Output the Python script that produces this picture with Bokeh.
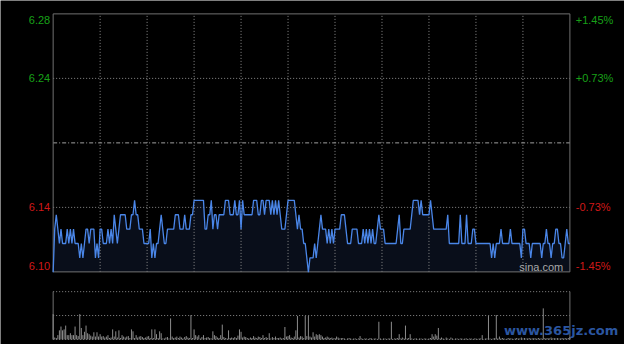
from bokeh.plotting import figure
from bokeh.models import Range1d
from bokeh.core.properties import value
from bokeh.embed import file_html
from bokeh.resources import INLINE

# ---------------- data ----------------
PREV_CLOSE = 6.19
price = [
    6.10, 6.13, 6.14, 6.13, 6.12, 6.13, 6.12, 6.12, 6.12, 6.13,
    6.12, 6.13, 6.12, 6.13, 6.12, 6.12, 6.12, 6.11, 6.12, 6.11,
    6.12, 6.13, 6.13, 6.12, 6.13, 6.13, 6.13, 6.11, 6.12, 6.11,
    6.13, 6.13, 6.12, 6.12, 6.12, 6.13, 6.12, 6.13, 6.12, 6.14,
    6.13, 6.12, 6.13, 6.14, 6.14, 6.14, 6.14, 6.13, 6.13, 6.13,
    6.14, 6.14, 6.15, 6.14, 6.14, 6.13, 6.13, 6.13, 6.12, 6.12,
    6.12, 6.12, 6.13, 6.11, 6.12, 6.11, 6.12, 6.12, 6.13, 6.14,
    6.13, 6.12, 6.12, 6.13, 6.13, 6.13, 6.13, 6.13, 6.14, 6.14,
    6.14, 6.13, 6.13, 6.13, 6.14, 6.13, 6.13, 6.13, 6.14, 6.14,
    6.15, 6.15, 6.15, 6.15, 6.15, 6.15, 6.15, 6.13, 6.13, 6.14,
    6.14, 6.15, 6.13, 6.14, 6.14, 6.13, 6.14, 6.14, 6.14, 6.14,
    6.15, 6.15, 6.15, 6.14, 6.14, 6.14, 6.15, 6.14, 6.14, 6.15,
    6.13, 6.15, 6.14, 6.14, 6.14, 6.14, 6.14, 6.14, 6.15, 6.15,
    6.15, 6.14, 6.14, 6.15, 6.15, 6.14, 6.15, 6.15, 6.15, 6.14,
    6.15, 6.14, 6.15, 6.14, 6.15, 6.14, 6.13, 6.13, 6.13, 6.14,
    6.15, 6.15, 6.15, 6.15, 6.15, 6.14, 6.13, 6.14, 6.13, 6.13,
    6.12, 6.12, 6.11, 6.10, 6.11, 6.11, 6.11, 6.12, 6.11, 6.12,
    6.13, 6.14, 6.13, 6.13, 6.13, 6.12, 6.13, 6.12, 6.13, 6.12,
    6.13, 6.13, 6.13, 6.13, 6.14, 6.14, 6.14, 6.13, 6.12, 6.12,
    6.12, 6.13, 6.13, 6.13, 6.13, 6.12, 6.12, 6.12, 6.13, 6.12,
    6.13, 6.12, 6.13, 6.12, 6.13, 6.12, 6.12, 6.13, 6.14, 6.13,
    6.13, 6.13, 6.12, 6.12, 6.12, 6.12, 6.12, 6.12, 6.12, 6.12,
    6.13, 6.14, 6.12, 6.12, 6.13, 6.13, 6.13, 6.13, 6.13, 6.14,
    6.15, 6.15, 6.15, 6.15, 6.14, 6.15, 6.14, 6.14, 6.14, 6.14,
    6.14, 6.15, 6.14, 6.13, 6.13, 6.13, 6.13, 6.13, 6.13, 6.13,
    6.13, 6.13, 6.14, 6.12, 6.12, 6.12, 6.12, 6.12, 6.12, 6.12,
    6.14, 6.12, 6.12, 6.12, 6.14, 6.12, 6.12, 6.12, 6.13, 6.13,
    6.12, 6.12, 6.12, 6.12, 6.12, 6.12, 6.12, 6.12, 6.12, 6.12,
    6.11, 6.12, 6.11, 6.12, 6.12, 6.12, 6.13, 6.12, 6.12, 6.12,
    6.12, 6.12, 6.13, 6.12, 6.12, 6.12, 6.12, 6.12, 6.12, 6.11,
    6.13, 6.13, 6.12, 6.12, 6.12, 6.11, 6.12, 6.12, 6.12, 6.12,
    6.12, 6.12, 6.11, 6.12, 6.12, 6.13, 6.12, 6.12, 6.11, 6.12,
    6.12, 6.13, 6.13, 6.12, 6.12, 6.11, 6.11, 6.12, 6.13, 6.12,
    6.12,
]
volume = [
    53, 4, 3, 9, 19, 27, 19, 21, 29, 9,
    9, 13, 9, 9, 27, 9, 7, 53, 24, 9,
    16, 29, 13, 11, 8, 6, 15, 6, 15, 6,
    11, 6, 7, 4, 6, 9, 3, 4, 21, 6,
    17, 4, 19, 3, 9, 6, 4, 6, 7, 3,
    21, 17, 3, 9, 4, 6, 7, 5, 3, 4,
    6, 7, 3, 21, 3, 21, 11, 3, 17, 13,
    2, 2, 4, 5, 2, 44, 6, 3, 4, 6,
    3, 6, 4, 2, 5, 7, 4, 3, 51, 3,
    21, 9, 6, 9, 2, 5, 9, 3, 4, 5,
    3, 2, 17, 9, 7, 4, 3, 9, 31, 5,
    3, 2, 19, 3, 4, 3, 5, 3, 8, 21,
    16, 4, 6, 5, 3, 2, 4, 3, 7, 4,
    3, 6, 5, 3, 9, 3, 5, 3, 13, 2,
    5, 3, 6, 3, 3, 4, 2, 3, 26, 6,
    7, 9, 4, 3, 6, 19, 49, 4, 7, 6,
    3, 49, 7, 49, 6, 4, 15, 6, 11, 9,
    11, 9, 6, 3, 4, 6, 4, 3, 4, 2,
    3, 6, 4, 2, 3, 3, 2, 1, 2, 3,
    2, 1, 2, 2, 1, 2, 7, 2, 1, 2,
    2, 1, 2, 3, 1, 2, 2, 1, 37, 2,
    1, 2, 2, 1, 2, 2, 37, 1, 2, 2,
    3, 11, 2, 4, 2, 29, 2, 3, 11, 2,
    1, 2, 2, 1, 2, 2, 1, 2, 2, 1,
    2, 3, 11, 6, 11, 8, 24, 2, 4, 2,
    1, 4, 2, 1, 4, 2, 1, 2, 2, 1,
    2, 2, 1, 2, 2, 1, 2, 2, 1, 2,
    2, 1, 2, 2, 9, 1, 2, 2, 49, 2,
    1, 2, 3, 51, 2, 6, 2, 3, 2, 1,
    2, 3, 2, 2, 1, 2, 3, 2, 2, 4,
    2, 3, 2, 2, 3, 2, 2, 3, 2, 2,
    3, 2, 2, 65, 3, 2, 3, 2, 4, 2,
    3, 2, 3, 2, 2, 3, 2, 3, 2, 3,
    5,
]
minutes = list(range(len(price)))
grid_minutes = [30, 60, 90, 120, 150, 180, 210, 240, 270, 300]
pct_levels = [1.45, 0.725, -0.725, -1.45]
left_labels = ["6.28", "6.24", "6.14", "6.10"]
right_labels = ["+1.45%", "+0.73%", "-0.73%", "-1.45%"]
VOL_MAX = 100

# ---------------- layout ----------------
W, H = 624, 344
SX, SY = W / 640, H / 360            # reference -> figure pixels
X0, X1 = 54 * SX, 584 * SX           # panel left / right
Y_TOP, Y_BOT = 14 * SY, 284 * SY     # main panel
V_TOP, V_BOT = 304.7 * SY, 354.7 * SY

N = len(price) - 1
top_price = PREV_CLOSE * (1 + pct_levels[0] / 100)
bot_price = PREV_CLOSE * (1 + pct_levels[-1] / 100)
ppx = (X1 - X0) / N
upp = (top_price - bot_price) / (Y_BOT - Y_TOP)
vpp = VOL_MAX / (V_BOT - V_TOP)

p = figure(width=W, height=H, output_backend="svg", toolbar_location=None,
           x_range=Range1d(-X0 / ppx, N + (W - X1) / ppx),
           y_range=Range1d(bot_price - (H - Y_BOT) * upp, top_price + Y_TOP * upp),
           x_axis_location=None, y_axis_location=None,
           min_border=0, background_fill_color="black", border_fill_color="black",
           outline_line_color=None)
p.grid.visible = False
p.extra_y_ranges = {"vol": Range1d(-(H - V_BOT) * vpp, VOL_MAX + V_TOP * vpp),
                    "px": Range1d(H, 0)}
p.extra_x_ranges = {"px": Range1d(0, W)}

GRID = "#8a8a8a"
BORDER = "#707070"

# area under the price line
p.varea(x=minutes, y1=bot_price, y2=price, fill_color="#14203a", fill_alpha=0.45)

# horizontal grid
for pc in pct_levels[1:3]:
    yv = PREV_CLOSE * (1 + pc / 100)
    p.segment(x0=0, x1=N, y0=yv, y1=yv, line_color=GRID, line_width=1, line_dash="1 2")
p.segment(x0=0, x1=N, y0=PREV_CLOSE, y1=PREV_CLOSE, line_color="#a0a0a0",
          line_width=1, line_dash="4 2 1 2")
# vertical grid
p.segment(x0=grid_minutes, x1=grid_minutes, y0=bot_price, y1=top_price,
          line_color=GRID, line_width=1, line_dash="1 2")
# main border
p.segment(x0=[0, N, 0, 0], x1=[0, N, N, N], y0=[bot_price, bot_price, top_price, bot_price],
          y1=[top_price, top_price, top_price, bot_price], line_color=BORDER, line_width=1)

# price line
p.line(minutes, price, line_color="#4a86e8", line_width=1.3)

# volume panel
p.segment(x0=[0, 0, 0], x1=[N, N, N], y0=[VOL_MAX, VOL_MAX / 2, 0],
          y1=[VOL_MAX, VOL_MAX / 2, 0], line_color=GRID, line_width=1, line_dash="1 2",
          y_range_name="vol")
p.segment(x0=[0, N], x1=[0, N], y0=[0, 0], y1=[VOL_MAX, VOL_MAX], line_color=BORDER,
          line_width=1, y_range_name="vol")
p.segment(x0=minutes, x1=minutes, y0=0, y1=volume, line_color="#8c8c8c", line_width=1,
          y_range_name="vol")

# tick labels
label_y = [PREV_CLOSE * (1 + pc / 100) for pc in pct_levels]
offs = [6, 0, 0, -6]
cols = ["#18a018", "#18a018", "#d01818", "#d01818"]
for yv, lt, rt, off, c in zip(label_y, left_labels, right_labels, offs, cols):
    p.text(x=[51 * SX], y=[yv], text=[lt], x_range_name="px", y_offset=off,
           text_align="right", text_baseline="middle", text_color=c,
           text_font=value("Liberation Sans"), text_font_size="11px")
    p.text(x=[590 * SX], y=[yv], text=[rt], x_range_name="px", y_offset=off,
           text_align="left", text_baseline="middle", text_color=c,
           text_font=value("Liberation Sans"), text_font_size="11px")

p.text(x=[532 * SX], y=[279 * SY], text=["sina.com"], x_range_name="px", y_range_name="px",
       text_align="left", text_baseline="middle", text_color="#a8a8a8",
       text_font=value("Liberation Sans"), text_font_size="11px")

# watermark
p.text(x=[575 * SX], y=[345 * SY], text=["www.365jz.com"], x_range_name="px",
       y_range_name="px", text_align="center", text_baseline="middle",
       text_color="#2b56a0", text_font=value("DejaVu Sans"), text_font_style="bold",
       text_font_size="13px")

open("out.html", "w").write(file_html(p, INLINE))
